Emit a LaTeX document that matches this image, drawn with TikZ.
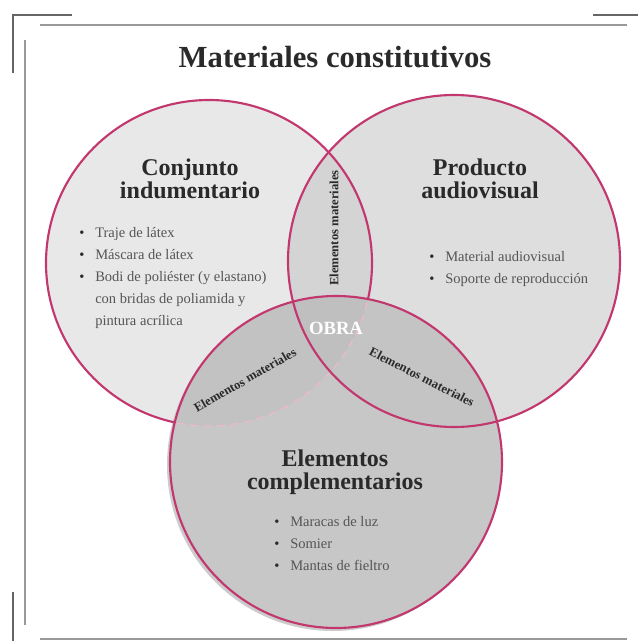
\documentclass[tikz,border=0pt]{standalone}
\usepackage{fontspec}
\setmainfont{Liberation Serif}
\usetikzlibrary{positioning}
\definecolor{rimpink}{HTML}{C2386E}
\definecolor{darktxt}{HTML}{2A2A2A}
\definecolor{greytxt}{HTML}{555555}
\newcommand{\bul}{\makebox[12pt][l]{\textcolor{darktxt}{\textbullet}}}
\newcommand{\nobul}{\hspace*{12pt}}
\tikzset{
  rimline/.style={draw=rimpink,line width=1.6pt},
  rimfaint/.style={draw=rimpink!35,line width=1pt,dash pattern=on 6pt off 4pt},
  corner/.style={draw=black!60,line width=1.4pt},
  rule/.style={draw=black!40,line width=1.2pt},
  heading/.style={font=\bfseries\fontsize{18}{17.5}\selectfont,text=darktxt,align=center},
  items/.style={font=\fontsize{10.9}{16.5}\selectfont,text=greytxt,align=left,anchor=north west,inner sep=0pt},
  lens/.style={font=\bfseries\fontsize{9.5}{11}\selectfont,text=darktxt,inner sep=0pt},
}
\begin{document}
\begin{tikzpicture}[x=0.75pt,y=-0.75pt]
\useasboundingbox (0,0) rectangle (638,641);
\coordinate (CI) at (209,263);
\coordinate (PA) at (454,261);
\coordinate (EC) at (336,462);

% frame
\draw[corner] (13,73) -- (13,15) -- (72,15);
\draw[corner] (593,15) -- (638,15);
\draw[corner] (13,592) -- (13,641);
\draw[rule] (40,25) -- (627,25);
\draw[rule] (25,40) -- (25,625);
\draw[rule] (40,639) -- (627,639);

% fills
\fill[black!9] (CI) circle (163);
\fill[black!13] (PA) circle (166);
\begin{scope}
\clip (CI) circle (163);
\fill[black!17] (PA) circle (166);
\end{scope}
\fill[black!20] ([shift={(-3,3)}]EC) circle (166);
\fill[black!22] (EC) circle (166);
\begin{scope}
\clip (EC) circle (166);
\fill[black!24] (CI) circle (163);
\fill[black!23] (PA) circle (166);
\clip (CI) circle (163);
\fill[black!25] (PA) circle (166);
\end{scope}

% outlines
\begin{scope}
\clip (EC) circle (166);
\draw[rimfaint] (CI) circle (163);
\end{scope}
\begin{scope}[even odd rule]
\clip (0,0) rectangle (638,641) (EC) circle (166);
\draw[rimline] (CI) circle (163);
\end{scope}
\draw[rimline] (PA) circle (166);
\draw[rimline] (EC) circle (166);

% texts
\node[text=darktxt,font=\bfseries\fontsize{23}{26}\selectfont] (title) at (335,57) {Materiales constitutivos};

\draw (190,179) node[heading] (CIhead) {Conjunto\\indumentario};
\node[items] (CIlist) at (79,227) {\bul Traje de látex\\ \bul Máscara de látex\\ \bul Bodi de poliéster (y elastano)\\ \nobul con bridas de poliamida y\\ \nobul pintura acrílica};

\draw (480,179) node[heading] (PAhead) {Producto\\audiovisual};
\node[items] (PAlist) at (429,251) {\bul Material audiovisual\\ \bul Soporte de reproducción};

\draw (335,472) node[heading] (EChead) {Elementos\\complementarios};
\node[items] (EClist) at (274,516) {\bul Maracas de luz\\ \bul Somier\\ \bul Mantas de fieltro};

\node[lens,rotate=90] (CIPA) at (334,228) {Elementos materiales};
\node[lens,rotate=30] (CIEC) at (245,380) {Elementos materiales};
\node[lens,rotate=-27] (PAEC) at (422,377) {Elementos materiales};
\node[text=white,font=\bfseries\fontsize{14}{16}\selectfont] (OBRA) at (336,328) {OBRA};
\end{tikzpicture}
\end{document}
